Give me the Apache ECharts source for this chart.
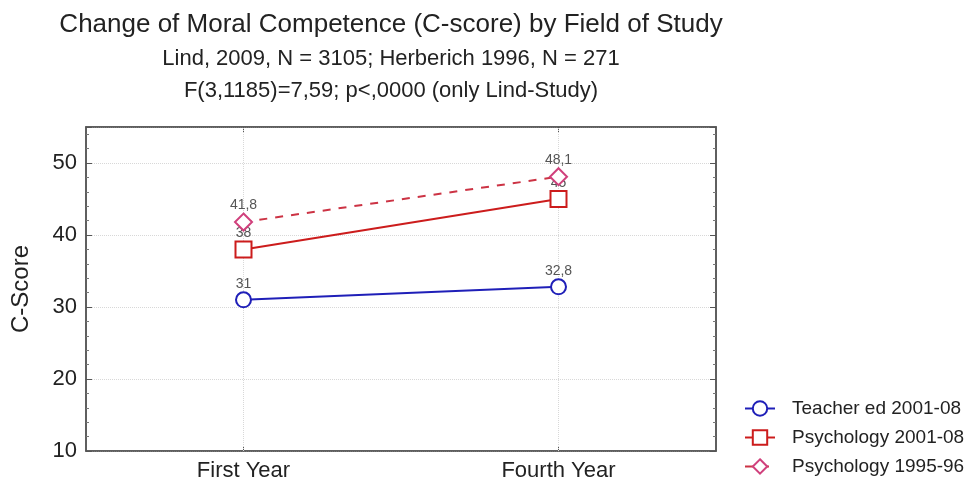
<!DOCTYPE html>
<html>
<head>
<meta charset="utf-8">
<script src="https://cdn.jsdelivr.net/npm/echarts@6/dist/echarts.min.js"></script>
<style>
html, body { margin: 0; padding: 0; background: #fff; }
#chart { width: 966px; height: 483px; }
</style>
</head>
<body>
<div id="chart"></div>
<script>
var categories = ['First Year', 'Fourth Year'];
var teacher0108 = [31, 32.8];
var psych0108 = [38, 45];
var psych9596 = [41.8, 48.1];
var seriesNames = ['Teacher ed 2001-08', 'Psychology 2001-08', 'Psychology 1995-96'];

var myChart = echarts.init(document.getElementById('chart'));

function commaLabel(p) {
    return String(p.value).replace('.', ',');
}

var labelStyle = {
    show: true,
    position: 'top',
    distance: 0,
    fontSize: 14,
    color: '#555',
    formatter: commaLabel
};

option = {
    animation: false,
    textStyle: { fontFamily: 'Liberation Sans' },
    title: [
        {
            text: 'Change of Moral Competence (C-score) by Field of Study',
            left: 386, top: 7, textAlign: 'center',
            textStyle: { fontSize: 26, fontWeight: 'normal', color: '#222' }
        },
        {
            text: 'Lind, 2009, N = 3105; Herberich 1996, N = 271',
            left: 386, top: 43, textAlign: 'center',
            textStyle: { fontSize: 22, fontWeight: 'normal', color: '#222' }
        },
        {
            text: 'F(3,1185)=7,59; p<,0000 (only Lind-Study)',
            left: 386, top: 75, textAlign: 'center',
            textStyle: { fontSize: 22, fontWeight: 'normal', color: '#222' }
        }
    ],
    legend: {
        data: seriesNames,
        orient: 'vertical',
        left: 744,
        top: 399,
        padding: 0,
        itemWidth: 30,
        itemHeight: 18,
        itemGap: 10,
        lineStyle: { width: 2 },
        textStyle: { fontSize: 19, color: '#222', padding: [0, 0, 0, 12] }
    },
    grid: {
        left: 86,
        right: 250,
        top: 127,
        bottom: 32,
        show: true,
        borderColor: '#555',
        borderWidth: 1.5
    },
    xAxis: [
        {
            type: 'category',
            data: categories,
            position: 'bottom',
            axisLine: { show: true, lineStyle: { color: '#555', width: 1.5 } },
            axisTick: { show: true, inside: true, alignWithLabel: true, length: 5, lineStyle: { color: '#555' } },
            axisLabel: { fontSize: 22, color: '#222', margin: 9 },
            splitLine: { show: false }
        },
        {
            type: 'category',
            data: categories,
            position: 'top',
            axisLine: { show: true, lineStyle: { color: '#555', width: 1.5 } },
            axisTick: { show: true, inside: true, alignWithLabel: true, length: 5, lineStyle: { color: '#555' } },
            axisLabel: { show: false },
            splitLine: { show: false }
        }
    ],
    yAxis: [
        {
            type: 'value',
            min: 10,
            max: 55,
            interval: 10,
            name: 'C-Score',
            nameLocation: 'middle',
            nameGap: 53,
            nameTextStyle: { fontSize: 24, color: '#222' },
            axisLine: { show: true, lineStyle: { color: '#555', width: 1.5 } },
            axisTick: { show: true, inside: true, length: 6, lineStyle: { color: '#555' } },
            minorTick: { show: true, splitNumber: 5, length: 3, lineStyle: { color: '#777' } },
            axisLabel: { fontSize: 22, color: '#222', margin: 9, showMaxLabel: false },
            splitLine: { show: true, lineStyle: { color: '#d8d8d8', type: 'dotted', width: 1 } }
        },
        {
            type: 'value',
            position: 'right',
            min: 10,
            max: 55,
            interval: 10,
            axisLine: { show: true, lineStyle: { color: '#555', width: 1.5 } },
            axisTick: { show: true, inside: true, length: 6, lineStyle: { color: '#555' } },
            minorTick: { show: true, splitNumber: 5, length: 3, lineStyle: { color: '#777' } },
            axisLabel: { show: false },
            splitLine: { show: false }
        }
    ],
    series: [
        {
            name: seriesNames[0],
            type: 'line',
            data: teacher0108,
            symbol: 'emptyCircle',
            symbolSize: 15,
            color: '#1f1fb8',
            lineStyle: { color: '#1f1fb8', width: 2 },
            itemStyle: { color: '#1f1fb8', borderWidth: 2.5 },
            label: labelStyle,
            z: 3,
            markLine: {
                silent: true,
                symbol: 'none',
                label: { show: false },
                lineStyle: { color: '#d8d8d8', type: 'dotted', width: 1 },
                data: [{ xAxis: categories[0] }, { xAxis: categories[1] }],
                z: 1
            }
        },
        {
            name: seriesNames[1],
            type: 'line',
            data: psych0108,
            symbol: 'emptyRect',
            symbolSize: 16,
            color: '#cc1c1c',
            lineStyle: { color: '#cc1c1c', width: 2 },
            itemStyle: { color: '#cc1c1c', borderWidth: 2.5 },
            label: labelStyle,
            z: 4
        },
        {
            name: seriesNames[2],
            type: 'line',
            data: psych9596,
            symbol: 'emptyDiamond',
            symbolSize: 17,
            color: '#d0407c',
            lineStyle: { color: '#cc3344', width: 2, type: [8, 8] },
            itemStyle: { color: '#d0407c', borderWidth: 2 },
            label: labelStyle,
            z: 5
        }
    ]
};
myChart.setOption(option);
</script>
</body>
</html>
